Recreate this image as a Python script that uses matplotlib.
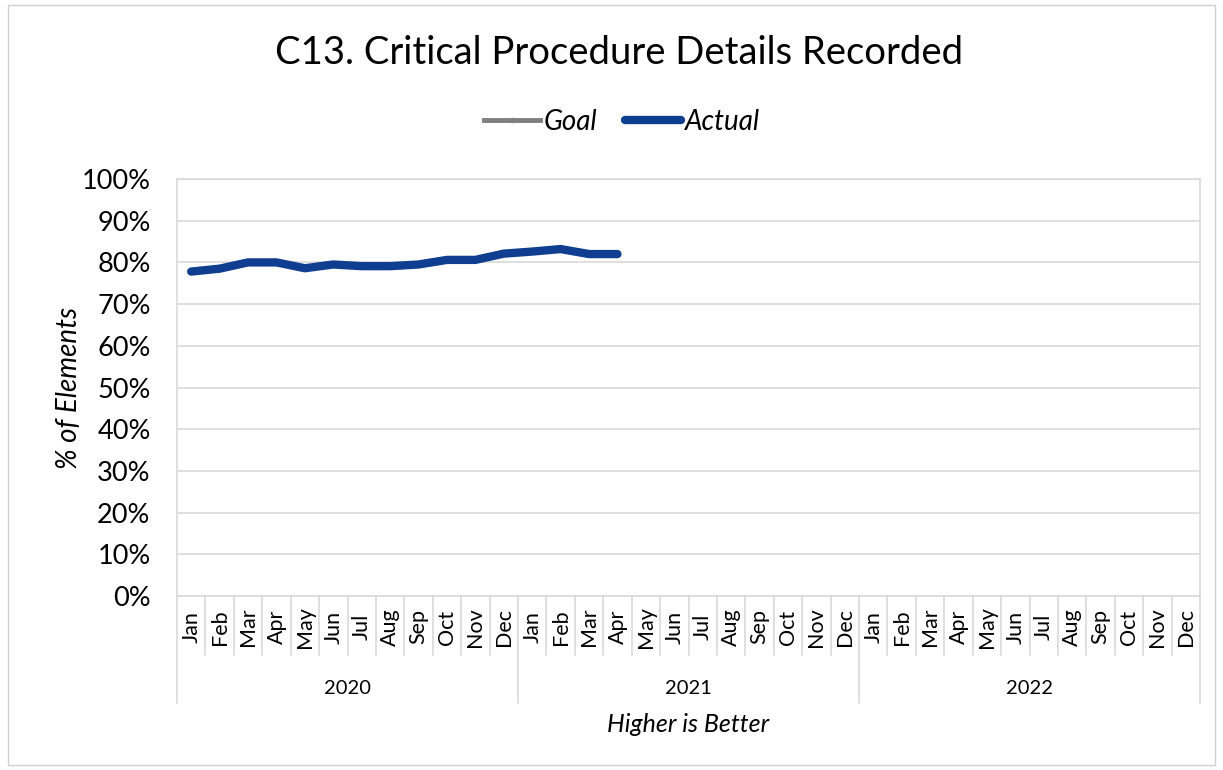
import matplotlib
matplotlib.use("Agg")
import matplotlib.pyplot as plt
import matplotlib.transforms as mtransforms
from matplotlib.patches import Rectangle
import numpy as np

plt.rcParams['font.family'] = ['Lato', 'DejaVu Sans']

title = "C13. Critical Procedure Details Recorded"
years = ["2020", "2021", "2022"]
months = ["Jan", "Feb", "Mar", "Apr", "May", "Jun", "Jul", "Aug", "Sep", "Oct", "Nov", "Dec"]
actual = [77.8, 78.5, 80.0, 80.0, 78.6, 79.5, 79.1, 79.1, 79.5, 80.6, 80.6, 82.1,
          82.6, 83.2, 82.0, 82.0]
goal = []
y_ticks = [0, 10, 20, 30, 40, 50, 60, 70, 80, 90, 100]

n = len(years) * len(months)
x_all = np.arange(n)

fig = plt.figure(figsize=(12.23, 7.70), dpi=100)
ax = fig.add_axes([177/1223, 1-596/770, (1200-177)/1223, (596-179)/770])

grid_c = '#d9d9d9'
ax.set_xlim(-0.5, n - 0.5)
ax.set_ylim(0, 100)
ax.set_yticks(y_ticks)
ax.set_yticklabels([f"{v}%" for v in y_ticks], fontsize=19.5)
ax.yaxis.grid(True, color=grid_c, linewidth=1.2)
ax.set_axisbelow(True)
ax.tick_params(axis='y', length=0, pad=19)
ax.tick_params(axis='x', length=0, labelbottom=False)
for s in ax.spines.values():
    s.set_color(grid_c)
    s.set_linewidth(1.2)

ax.plot(np.arange(len(goal)), goal, color='#808080', linewidth=3.5,
        marker='o', markersize=3, label='Goal')
ax.plot(np.arange(len(actual)), actual, color='#0f3d8f', linewidth=6,
        solid_capstyle='round', solid_joinstyle='round', label='Actual')

trans = mtransforms.blended_transform_factory(ax.transData, ax.transAxes)
ax_h_px = 596 - 179
def ay(px):  # pixels below the axis bottom -> axes fraction
    return -px / ax_h_px

# month separators and labels
for i in range(n + 1):
    xb = i - 0.5
    is_year = (i % 12 == 0)
    depth = 107 if is_year else 59
    ax.plot([xb, xb], [0, ay(depth)], transform=trans, color=grid_c,
            linewidth=1.2, clip_on=False)
for i in range(n):
    ax.text(x_all[i], ay(31), months[i % 12], transform=trans, rotation=90,
            ha='center', va='center', fontsize=15.5)
for k, yr in enumerate(years):
    xc = k * 12 + 5.5
    ax.text(xc, ay(92), yr, transform=trans, ha='center', va='center', fontsize=14.5)

ax.set_ylabel("% of Elements", fontsize=20, style='italic', labelpad=0)
fig.text((177+1200)/2/1223, 1-724/770, "Higher is Better", ha='center', va='center',
         fontsize=18, style='italic')
fig.text(619/1223, 1-53/770, title, ha='center', va='center', fontsize=27.5)

fig.legend(loc='center', bbox_to_anchor=(622/1223, 1-122/770), ncol=2,
           frameon=False, handlelength=2.0, columnspacing=1.0,
           handletextpad=0.15, prop={'style': 'italic', 'size': 20})

fig.patches.append(Rectangle((8/1223, 5/770), 1-16/1223, 1-10/770, transform=fig.transFigure,
                             fill=False, edgecolor='#d0d0d0', linewidth=1))

fig.savefig("out.png", dpi=100)
